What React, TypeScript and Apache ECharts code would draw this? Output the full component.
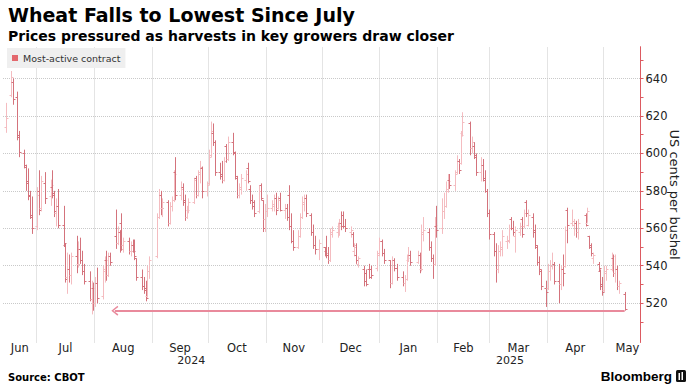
import React, { useEffect, useRef } from 'react';
import * as echarts from 'echarts';

const TITLE = 'Wheat Falls to Lowest Since July';
const SUBTITLE = 'Prices pressured as harvests in key growers draw closer';
const SOURCE = 'Source: CBOT';
const BRAND = 'Bloomberg';
const SERIES_NAME = 'Most-active contract';
const Y_AXIS_NAME = 'US cents per bushel';
const MONTH_NAMES = ['Jan', 'Feb', 'Mar', 'Apr', 'May', 'Jun', 'Jul', 'Aug', 'Sep', 'Oct', 'Nov', 'Dec'];

const Y_LABELS = [520, 540, 560, 580, 600, 620, 640];
const Y_TICKS = [510, 520, 530, 540, 550, 560, 570, 580, 590, 600, 610, 620, 630, 640, 650];
const Y_MIN = 499;
const Y_MAX = 657;

const X_START = '2024-06-13';
const X_END = '2025-05-21';
const LABEL_SPAN_END = '2025-05-27';
const MONTHS = ['2024-06', '2024-07', '2024-08', '2024-09', '2024-10', '2024-11', '2024-12', '2025-01', '2025-02', '2025-03', '2025-04', '2025-05'];
const YEARS = [2024, 2025];

const ARROW_LEVEL = 516;
const ARROW_FROM = '2025-05-12';
const ARROW_TO = '2024-08-12';

// trading days per month
const DAYS_2024_06 = [14, 17, 18, 20, 21, 24, 25, 26, 27, 28];
const DAYS_2024_07 = [1, 2, 3, 5, 8, 9, 10, 11, 12, 15, 16, 17, 18, 19, 22, 23, 24, 25, 26, 29, 30, 31];
const DAYS_2024_08 = [1, 2, 5, 6, 7, 8, 9, 12, 13, 14, 15, 16, 19, 20, 21, 22, 23, 26, 27, 28, 29, 30];
const DAYS_2024_09 = [3, 4, 5, 6, 9, 10, 11, 12, 13, 16, 17, 18, 19, 20, 23, 24, 25, 26, 27, 30];
const DAYS_2024_10 = [1, 2, 3, 4, 7, 8, 9, 10, 11, 14, 15, 16, 17, 18, 21, 22, 23, 24, 25, 28, 29, 30, 31];
const DAYS_2024_11 = [1, 4, 5, 6, 7, 8, 11, 12, 13, 14, 15, 18, 19, 20, 21, 22, 25, 26, 27, 29];
const DAYS_2024_12 = [2, 3, 4, 5, 6, 9, 10, 11, 12, 13, 16, 17, 18, 19, 20, 23, 24, 26, 27, 30, 31];
const DAYS_2025_01 = [2, 3, 6, 7, 8, 10, 13, 14, 15, 16, 17, 21, 22, 23, 24, 27, 28, 29, 30, 31];
const DAYS_2025_02 = [3, 4, 5, 6, 7, 10, 11, 12, 13, 14, 18, 19, 20, 21, 24, 25, 26, 27, 28];
const DAYS_2025_03 = [3, 4, 5, 6, 7, 10, 11, 12, 13, 14, 17, 18, 19, 20, 21, 24, 25, 26, 27, 28, 31];
const DAYS_2025_04 = [1, 2, 3, 4, 7, 8, 9, 10, 11, 14, 15, 16, 17, 21, 22, 23, 24, 25, 28, 29, 30];
const DAYS_2025_05 = [1, 2, 5, 6, 7, 8, 9, 12];

// [open, high, low, close] in US cents per bushel
const OHLC_2024_06 = [
  [614, 627, 611, 619], [631, 644, 630, 641], [638, 640, 626, 629], [630, 633, 607, 609], [610, 612, 598, 601],
  [600, 602, 592, 594], [593, 594, 580, 584], [585, 592, 575, 577], [578, 580, 565, 567], [566, 577, 557, 560],
];
const OHLC_2024_07 = [
  [561, 582, 559, 578], [580, 591, 567, 570], [571, 588, 569, 585], [584, 590, 573, 576], [577, 586, 572, 583],
  [582, 591, 576, 579], [578, 580, 566, 569], [568, 576, 561, 572], [572, 581, 560, 562], [562, 572, 550, 552],
  [551, 552, 531, 533], [534, 547, 525, 538], [538, 546, 531, 535], [535, 547, 530, 545], [545, 556, 536, 541],
  [541, 553, 539, 549], [549, 555, 541, 543], [543, 548, 535, 537], [537, 541, 530, 532], [532, 537, 521, 522],
  [522, 532, 514, 528], [528, 531, 516, 520],
];
const OHLC_2024_08 = [
  [520, 534, 518, 531], [531, 539, 520, 523], [524, 540, 522, 538], [537, 545, 531, 543], [543, 548, 532, 535],
  [535, 547, 534, 545], [545, 547, 540, 542], [556, 570, 549, 552], [552, 561, 551, 558], [558, 559, 547, 549],
  [563, 568, 548, 551], [551, 555, 547, 553], [553, 555, 546, 548], [548, 553, 545, 551], [551, 554, 547, 548],
  [548, 554, 543, 545], [544, 544, 532, 534], [534, 538, 527, 529], [529, 534, 525, 527], [528, 532, 521, 523],
  [524, 540, 523, 537], [537, 545, 533, 543],
];
const OHLC_2024_09 = [
  [545, 568, 544, 566], [566, 581, 565, 578], [578, 580, 567, 571], [571, 576, 566, 574], [574, 575, 561, 563],
  [563, 574, 562, 572], [572, 577, 569, 575], [575, 591, 574, 589], [590, 598, 575, 578], [578, 585, 575, 581],
  [582, 584, 572, 574], [575, 578, 564, 566], [566, 572, 565, 570], [570, 576, 568, 574], [574, 587, 573, 586],
  [587, 588, 576, 578], [578, 591, 577, 590], [589, 596, 584, 593], [592, 593, 576, 580], [580, 585, 577, 583],
];
const OHLC_2024_10 = [
  [584, 602, 583, 598], [599, 617, 598, 612], [611, 616, 604, 606], [606, 607, 588, 590], [590, 595, 586, 588],
  [589, 596, 584, 586], [586, 598, 585, 596], [604, 605, 595, 597], [597, 609, 596, 606], [606, 611, 599, 601],
  [600, 601, 586, 588], [587, 588, 576, 578], [578, 584, 576, 582], [581, 589, 578, 587], [586, 591, 580, 589],
  [592, 595, 584, 585], [581, 583, 573, 575], [575, 578, 570, 572], [574, 575, 566, 568], [569, 583, 568, 580],
  [583, 584, 575, 576], [575, 575, 558, 560], [565, 573, 558, 569],
];
const OHLC_2024_11 = [
  [569, 578, 566, 571], [571, 575, 569, 573], [572, 578, 569, 576], [576, 579, 567, 570], [571, 577, 570, 575],
  [576, 579, 569, 570], [570, 573, 565, 571], [571, 573, 564, 566], [578, 583, 559, 561], [561, 568, 552, 553],
  [553, 559, 548, 550], [550, 559, 549, 556], [556, 568, 555, 566], [566, 577, 565, 574], [573, 578, 569, 576],
  [576, 578, 566, 568], [567, 568, 556, 558], [558, 562, 549, 551], [551, 556, 546, 549], [549, 554, 543, 552],
];
const OHLC_2024_12 = [
  [550, 550, 545, 547], [548, 556, 544, 546], [546, 550, 541, 543], [543, 560, 542, 558], [557, 561, 555, 559],
  [558, 563, 555, 561], [561, 565, 556, 563], [563, 569, 559, 561], [567, 569, 560, 561], [561, 565, 558, 560],
  [558, 561, 555, 559], [557, 558, 550, 551], [548, 552, 545, 550], [546, 552, 541, 543], [541, 545, 539, 544],
  [538, 540, 529, 532], [536, 538, 529, 530], [538, 541, 533, 534], [538, 540, 533, 535], [539, 548, 537, 546],
  [547, 555, 545, 553],
];
const OHLC_2025_01 = [
  [553, 554, 545, 547], [547, 549, 541, 543], [543, 543, 528, 531], [531, 545, 530, 543], [543, 544, 537, 539],
  [539, 541, 532, 534], [534, 537, 529, 531], [531, 535, 526, 533], [533, 546, 532, 544], [543, 550, 542, 546],
  [546, 548, 540, 542], [542, 548, 541, 546], [546, 547, 536, 538], [538, 562, 537, 558], [557, 566, 553, 559],
  [558, 560, 548, 550], [550, 553, 542, 544], [544, 546, 533, 541], [541, 566, 540, 562], [561, 572, 555, 559],
];
const OHLC_2025_02 = [
  [560, 576, 557, 569], [569, 579, 565, 572], [572, 585, 571, 580], [581, 589, 579, 585], [586, 589, 581, 583],
  [583, 591, 580, 589], [590, 599, 589, 596], [596, 597, 589, 591], [595, 612, 594, 610], [611, 622, 609, 617],
  [616, 617, 599, 603], [603, 609, 600, 606], [604, 606, 597, 599], [598, 600, 588, 590], [590, 598, 585, 594],
  [594, 597, 585, 587], [586, 591, 579, 580], [580, 581, 566, 568], [568, 570, 554, 557],
];
const OHLC_2025_03 = [
  [557, 558, 545, 548], [548, 552, 531, 538], [538, 551, 536, 548], [548, 553, 545, 550], [549, 559, 545, 556],
  [553, 556, 549, 554], [553, 562, 552, 560], [565, 566, 559, 560], [560, 564, 556, 558], [556, 561, 547, 559],
  [558, 563, 556, 561], [565, 566, 555, 557], [561, 570, 560, 568], [574, 575, 566, 568], [562, 570, 561, 567],
  [566, 568, 555, 559], [558, 562, 549, 551], [550, 551, 540, 542], [542, 545, 535, 538], [537, 538, 527, 529],
  [528, 532, 518, 526],
];
const OHLC_2025_04 = [
  [528, 541, 527, 537], [537, 543, 532, 540], [540, 547, 538, 541], [541, 542, 530, 532], [532, 541, 520, 530],
  [530, 540, 527, 538], [538, 546, 529, 536], [540, 561, 539, 559], [570, 571, 552, 562], [563, 570, 561, 564],
  [562, 565, 556, 563], [563, 564, 555, 558], [558, 565, 554, 563], [567, 568, 561, 562], [563, 571, 563, 569],
  [556, 556, 549, 550], [551, 552, 545, 547], [544, 547, 541, 546], [541, 542, 537, 539], [537, 538, 527, 529],
  [530, 534, 524, 526],
];
const OHLC_2025_05 = [
  [527, 540, 526, 537], [536, 540, 532, 538], [538, 547, 537, 545], [544, 546, 534, 536], [536, 546, 531, 538],
  [538, 540, 527, 529], [529, 532, 525, 531], [525, 526, 516, 517],
];

const MONTH_DATA: [string, number[], number[][]][] = [
  ['2024-06', DAYS_2024_06, OHLC_2024_06],
  ['2024-07', DAYS_2024_07, OHLC_2024_07],
  ['2024-08', DAYS_2024_08, OHLC_2024_08],
  ['2024-09', DAYS_2024_09, OHLC_2024_09],
  ['2024-10', DAYS_2024_10, OHLC_2024_10],
  ['2024-11', DAYS_2024_11, OHLC_2024_11],
  ['2024-12', DAYS_2024_12, OHLC_2024_12],
  ['2025-01', DAYS_2025_01, OHLC_2025_01],
  ['2025-02', DAYS_2025_02, OHLC_2025_02],
  ['2025-03', DAYS_2025_03, OHLC_2025_03],
  ['2025-04', DAYS_2025_04, OHLC_2025_04],
  ['2025-05', DAYS_2025_05, OHLC_2025_05],
];

// styles
const UP = '#f4bcc0';
const DOWN = '#d4737c';
const LEGEND_RED = '#e3686d';
const AXIS_RED = '#dc5a61';
const ARROW_PINK = '#e98a9c';
const GRID_GRAY = '#c9c9c9';
const TEXT = '#222';
const FONT = 'DejaVu Sans';

function parseDate(s: string): number {
  const [y, m, d] = s.split('-').map(Number);
  return new Date(y, m - 1, d || 1).getTime();
}

function buildOption() {
  const xMin = parseDate(X_START);
  const xMax = parseDate(X_END);
  const labelEnd = parseDate(LABEL_SPAN_END);
  const clamp = (v: number, hi = xMax) => Math.max(xMin, Math.min(hi, v));

  const data: number[][] = [];
  MONTH_DATA.forEach(([ym, days, ohlc]) => {
    const [y, m] = ym.split('-').map(Number);
    const n = Math.min(days.length, ohlc.length);
    for (let i = 0; i < n; i++) {
      const t = new Date(y, m - 1, days[i], 12).getTime();
      data.push([t, ...ohlc[i]]);
    }
  });

  const monthStart = (ym: string, add = 0) => {
    const [y, m] = ym.split('-').map(Number);
    return new Date(y, m - 1 + add, 1).getTime();
  };
  const monthLines = MONTHS.map((ym) => monthStart(ym)).filter((t) => t > xMin && t < xMax);
  const monthLabelPos = MONTHS.map((ym) => (clamp(monthStart(ym), labelEnd) + clamp(monthStart(ym, 1), labelEnd)) / 2);
  const yearLabelPos = YEARS.map((y) => (clamp(new Date(y, 0, 1).getTime()) + clamp(new Date(y + 1, 0, 1).getTime())) / 2);

  const chevron = 'path://M0,7 L5,0 L10,7 L8.6,8 L5,2.4 L1.4,8 Z';

  const xBase = {
    type: 'value',
    min: xMin,
    max: xMax,
    axisLine: { show: false },
    axisTick: { show: false },
    splitLine: { show: false },
  };

  return {
    animation: false,
    backgroundColor: '#fff',
    textStyle: { fontFamily: FONT },
    grid: { left: 3, right: 53.5, top: 46.7, bottom: 49.5, containLabel: false, outerBoundsMode: 'none' },
    legend: {
      left: 7,
      top: 48,
      padding: [5, 5, 5, 5],
      itemWidth: 6,
      itemHeight: 6,
      backgroundColor: '#efefef',
      selectedMode: false,
      textStyle: { fontSize: 9.5, color: '#333', fontFamily: FONT },
      data: [{ name: SERIES_NAME, icon: 'rect', itemStyle: { color: LEGEND_RED } }],
    },
    xAxis: [
      {
        ...xBase,
        axisLabel: {
          customValues: monthLabelPos,
          formatter: (v: number) => MONTH_NAMES[new Date(v).getMonth()],
          margin: -1,
          fontSize: 11.5,
          color: TEXT,
          fontFamily: FONT,
          hideOverlap: false,
        },
      },
      {
        ...xBase,
        position: 'bottom',
        offset: 13.5,
        axisLabel: {
          customValues: yearLabelPos,
          formatter: (v: number) => String(new Date(v).getFullYear()),
          margin: -1,
          fontSize: 11,
          color: TEXT,
          fontFamily: FONT,
          hideOverlap: false,
        },
      },
    ],
    yAxis: {
      type: 'value',
      position: 'right',
      min: Y_MIN,
      max: Y_MAX,
      splitLine: { show: false },
      axisLine: { show: true, lineStyle: { color: AXIS_RED, width: 1 } },
      axisTick: { show: true, customValues: Y_TICKS, length: 3, lineStyle: { color: AXIS_RED } },
      axisLabel: { customValues: Y_LABELS, margin: 5, fontSize: 11.5, color: TEXT, fontFamily: FONT },
      name: Y_AXIS_NAME,
      nameLocation: 'middle',
      nameRotate: -90,
      nameGap: 27,
      nameMoveOverlap: false,
      nameTextStyle: { fontSize: 13, color: TEXT, fontFamily: FONT },
    },
    series: [
      {
        type: 'line',
        name: 'gridlines',
        data: [],
        silent: true,
        markLine: {
          z: 1,
          silent: true,
          symbol: 'none',
          label: { show: false },
          lineStyle: { type: 'dotted', color: GRID_GRAY, width: 1 },
          emphasis: { disabled: true },
          data: [
            ...monthLines.map((t) => ({ xAxis: t })),
            ...Y_LABELS.map((v) => ({ yAxis: v })),
          ],
        },
      },
      {
        type: 'custom',
        name: SERIES_NAME,
        data,
        encode: { x: 0, y: [1, 2, 3, 4] },
        itemStyle: { color: LEGEND_RED },
        z: 3,
        clip: true,
        renderItem: (_params: any, api: any) => {
          const t = api.value(0);
          const o = api.value(1);
          const h = api.value(2);
          const l = api.value(3);
          const c = api.value(4);
          const pH = api.coord([t, h]);
          const pL = api.coord([t, l]);
          const pO = api.coord([t, o]);
          const pC = api.coord([t, c]);
          const x = Math.round(pH[0]) + 0.5;
          const color = c >= o ? UP : DOWN;
          const st = { stroke: color, lineWidth: 1, fill: null };
          return {
            type: 'group',
            children: [
              { type: 'line', shape: { x1: x, y1: pH[1], x2: x, y2: pL[1] }, style: st },
              { type: 'line', shape: { x1: x - 2, y1: Math.round(pO[1]) + 0.5, x2: x, y2: Math.round(pO[1]) + 0.5 }, style: st },
              { type: 'line', shape: { x1: x, y1: Math.round(pC[1]) + 0.5, x2: x + 2, y2: Math.round(pC[1]) + 0.5 }, style: st },
            ],
          };
        },
        markLine: {
          silent: true,
          label: { show: false },
          lineStyle: { type: 'solid', color: ARROW_PINK, width: 2 },
          emphasis: { disabled: true },
          data: [
            [
              { coord: [parseDate(ARROW_FROM) + 12 * 3600 * 1000, ARROW_LEVEL], symbol: 'none' },
              { coord: [parseDate(ARROW_TO), ARROW_LEVEL], symbol: chevron, symbolSize: [10, 7] },
            ],
          ],
        },
      },
    ],
    graphic: [
      { type: 'text', x: 8, y: 15, style: { text: TITLE, fill: '#000', font: `bold 19px "${FONT}"`, align: 'left', verticalAlign: 'middle', textAlign: 'left', textVerticalAlign: 'middle' } },
      { type: 'text', x: 8, y: 36, style: { text: SUBTITLE, fill: '#000', font: `bold 14px "${FONT}"`, align: 'left', verticalAlign: 'middle', textAlign: 'left', textVerticalAlign: 'middle' } },
      { type: 'text', x: 8, y: 377, style: { text: SOURCE, fill: '#000', font: `bold 10px "${FONT}"`, align: 'left', verticalAlign: 'middle', textAlign: 'left', textVerticalAlign: 'middle' } },
      { type: 'text', x: 672, y: 376, style: { text: BRAND, fill: '#000', font: 'bold 13.5px "Liberation Sans"', align: 'right', verticalAlign: 'middle', textAlign: 'right', textVerticalAlign: 'middle' } },
      { type: 'rect', shape: { x: 676, y: 370, width: 10, height: 12, r: 1.5 }, style: { fill: '#111' } },
      { type: 'rect', shape: { x: 678.5, y: 373, width: 1.5, height: 7 }, style: { fill: '#fff' } },
      { type: 'rect', shape: { x: 681.5, y: 372, width: 1.5, height: 8 }, style: { fill: '#fff' } },
    ],
  };
}

export default function App() {
  const ref = useRef<HTMLDivElement>(null);
  useEffect(() => {
    if (!ref.current) return;
    const chart = echarts.init(ref.current, undefined, { renderer: 'svg' });
    chart.setOption(buildOption() as any);
    return () => {
      chart.dispose();
    };
  }, []);
  return (
    <div
      ref={ref}
      style={{ position: 'fixed', left: 0, top: 0, width: 694, height: 392, background: '#fff' }}
    />
  );
}
